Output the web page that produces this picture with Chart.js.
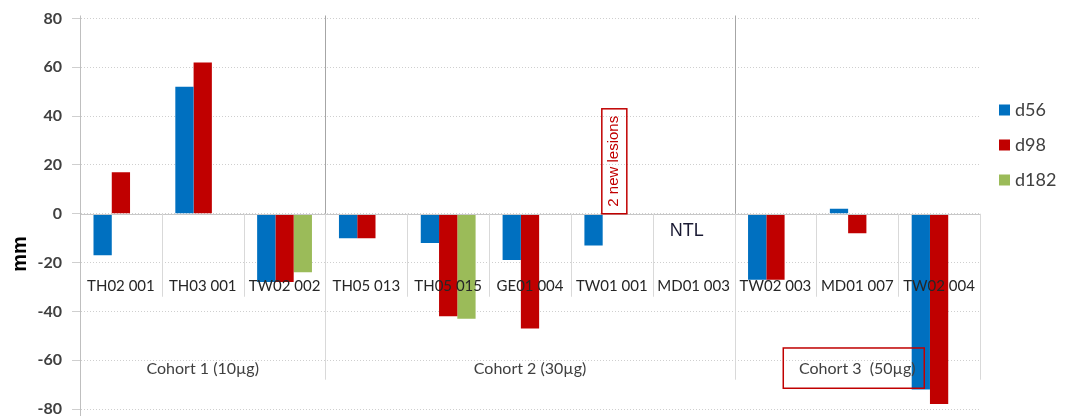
<!DOCTYPE html>
<html>
<head>
<meta charset="utf-8">
<script src="https://cdn.jsdelivr.net/npm/chart.js@4"></script>
<style>
  body { margin: 0; background: #fff; }
  #wrap { width: 1067px; height: 416px; position: relative; }
</style>
</head>
<body>
<div id="wrap"><canvas id="myChart"></canvas></div>
<script>
// patients (categories) and tumour size change in mm
const categories = ['TH02 001', 'TH03 001', 'TW02 002', 'TH05 013', 'TH05 015', 'GE01 004',
  'TW01 001', 'MD01 003', 'TW02 003', 'MD01 007', 'TW02 004'];
const d56 = [-17, 52, -28, -10, -12, -19, -13, null, -27, 2, -72];
const d98 = [17, 62, -28, -10, -42, -47, null, null, -27, -8, -78];
const d182 = [null, null, -24, null, -43, null, null, null, null, null, null];
const cohortNames = ['Cohort 1 (10µg)', 'Cohort 2 (30µg)', 'Cohort 3  (50µg)'];
const cohortSizes = [3, 5, 3];
const yMin = -80, yMax = 80, yStep = 20;

const BLUE = '#0070c0', RED = '#c00000', GREEN = '#9bbb59';
const TXT = '#404040';

// labels, separators, notes and legend drawn on top of the bars
const extras = {
  id: 'extras',
  afterDatasetsDraw(chart) {
    const ctx = chart.ctx;
    const a = chart.chartArea;
    const y = chart.scales.y;
    const n = categories.length;
    const step = (a.right - a.left) / n;
    const y0 = y.getPixelForValue(0);
    ctx.save();

    // zero line (solid)
    ctx.strokeStyle = '#c8c8c8';
    ctx.lineWidth = 1;
    ctx.beginPath();
    ctx.moveTo(a.left, Math.round(y0) + 0.5);
    ctx.lineTo(a.right, Math.round(y0) + 0.5);
    ctx.stroke();

    // value axis line runs down to the bottom edge
    ctx.strokeStyle = '#bfbfbf';
    ctx.beginPath();
    ctx.moveTo(Math.round(a.left) + 0.5, a.top - 3);
    ctx.lineTo(Math.round(a.left) + 0.5, chart.height);
    ctx.stroke();

    // short separators between patients
    ctx.strokeStyle = '#d9d9d9';
    for (let i = 1; i < n; i++) {
      const xx = Math.round(a.left + i * step) + 0.5;
      ctx.beginPath();
      ctx.moveTo(xx, y0);
      ctx.lineTo(xx, y.getPixelForValue(-34));
      ctx.stroke();
    }

    // cohort separators
    let start = 0;
    const bounds = [0];
    cohortSizes.forEach(s => { start += s; bounds.push(start); });
    bounds.forEach((b, k) => {
      const xx = Math.round(a.left + b * step) + 0.5;
      if (k > 0) {
        ctx.strokeStyle = '#d9d9d9';
        ctx.beginPath();
        ctx.moveTo(xx, y0);
        ctx.lineTo(xx, y.getPixelForValue(-68));
        ctx.stroke();
      }
      if (k > 0 && k < bounds.length - 1) {
        ctx.strokeStyle = '#a6a6a6';
        ctx.beginPath();
        ctx.moveTo(xx, a.top - 3);
        ctx.lineTo(xx, y0);
        ctx.stroke();
      }
    });

    // patient labels
    ctx.fillStyle = '#262626';
    ctx.font = '15px Lato';
    ctx.textAlign = 'center';
    ctx.textBaseline = 'middle';
    categories.forEach((c, i) => {
      ctx.fillText(c, a.left + (i + 0.5) * step, y.getPixelForValue(-29.5));
    });

    // cohort labels
    ctx.fillStyle = TXT;
    ctx.font = '16px Lato';
    cohortNames.forEach((c, k) => {
      const cx = a.left + (bounds[k] + bounds[k + 1]) / 2 * step;
      ctx.fillText(c, cx, y.getPixelForValue(-63.5));
    });

    // box round cohort 3
    const c3 = a.left + (bounds[2] + bounds[3]) / 2 * step;
    ctx.strokeStyle = RED;
    ctx.lineWidth = 1.5;
    ctx.strokeRect(c3 - 74, y.getPixelForValue(-55), 141, y.getPixelForValue(-71.5) - y.getPixelForValue(-55));

    // NTL note
    ctx.fillStyle = '#1a1a33';
    ctx.font = '18px "Liberation Sans"';
    ctx.fillText('NTL', a.left + 7.5 * step - 7, y.getPixelForValue(-7));

    // "2 new lesions" note in the d98 slot of TW01 001
    const b = chart.getDatasetMeta(0).data[6];
    const nx = b.x + b.width + 2;
    const top = y.getPixelForValue(43);
    ctx.strokeStyle = RED;
    ctx.lineWidth = 1.5;
    ctx.strokeRect(nx - 12, top, 25, y0 - top);
    ctx.translate(nx, (top + y0) / 2);
    ctx.rotate(-Math.PI / 2);
    ctx.fillStyle = RED;
    ctx.font = '15px "Liberation Sans"';
    ctx.fillText('2 new lesions', 0, 0);
    ctx.restore();
  },
  afterDraw(chart) {
    const ctx = chart.ctx;
    ctx.save();
    // axis title
    ctx.translate(20, 254);
    ctx.rotate(-Math.PI / 2);
    ctx.fillStyle = '#000';
    ctx.font = 'bold 20px "Liberation Sans"';
    ctx.textAlign = 'center';
    ctx.textBaseline = 'middle';
    ctx.fillText('mm', 0, 0);
    ctx.restore();

    // legend
    ctx.save();
    ctx.font = '18px Lato';
    ctx.textBaseline = 'middle';
    chart.data.datasets.forEach((ds, i) => {
      const ly = 110 + i * 35;
      ctx.fillStyle = ds.backgroundColor;
      ctx.fillRect(999, ly - 5.5, 11, 11);
      ctx.fillStyle = TXT;
      ctx.fillText(ds.label, 1015, ly);
    });
    ctx.restore();
  }
};

document.addEventListener('DOMContentLoaded', function() {
  const data = {
    labels: categories,
    datasets: [
      { label: 'd56', data: d56, backgroundColor: BLUE },
      { label: 'd98', data: d98, backgroundColor: RED },
      { label: 'd182', data: d182, backgroundColor: GREEN }
    ]
  };
  const config = {
    type: 'bar',
    data: data,
    options: {
      responsive: true,
      maintainAspectRatio: false,
      animation: false,
      categoryPercentage: 0.67,
      barPercentage: 1,
      layout: { padding: { left: 30, right: 87, top: 18.5, bottom: 7 } },
      plugins: { legend: { display: false }, tooltip: { enabled: false } },
      scales: {
        x: { display: false },
        y: {
          min: yMin,
          max: yMax,
          afterFit: s => { s.width = 50; s.paddingTop = 0; s.paddingBottom = 0; },
          ticks: {
            stepSize: yStep,
            padding: 10,
            color: '#404040',
            font: { family: 'Lato', size: 16, weight: 'bold' }
          },
          grid: { color: '#cfcfcf', tickLength: 8, tickColor: '#cfcfcf' },
          border: { color: '#bfbfbf', dash: [1, 2] }
        }
      }
    },
    plugins: [extras]
  };
  new Chart(document.getElementById('myChart'), config);
});
</script>
</body>
</html>
